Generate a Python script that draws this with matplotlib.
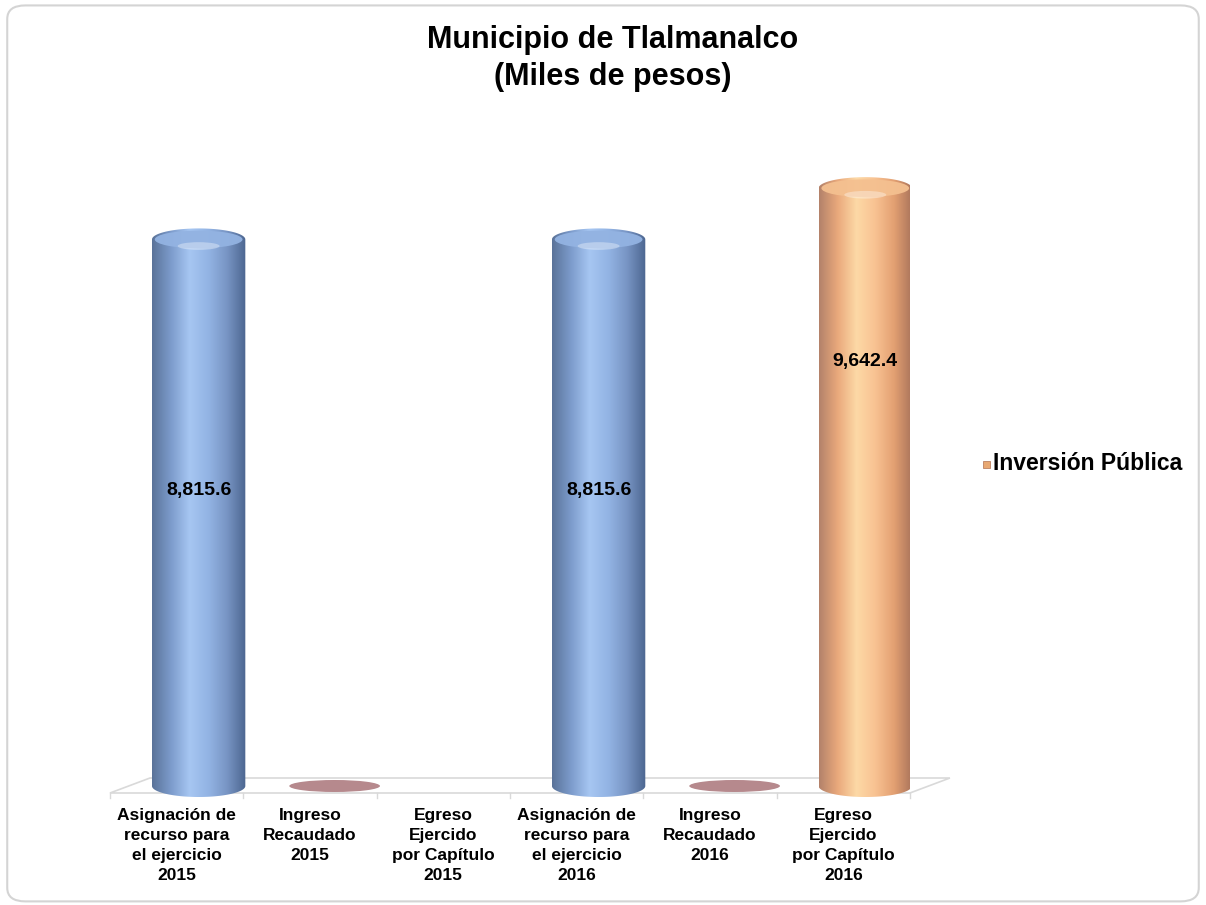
import numpy as np
import matplotlib.pyplot as plt
from matplotlib.colors import LinearSegmentedColormap
from matplotlib.patches import Ellipse, FancyBboxPatch, Polygon, PathPatch, Rectangle
from matplotlib.path import Path

plt.rcParams['font.family'] = ['Liberation Sans', 'DejaVu Sans']

# data
categories = ["Asignación de\nrecurso para\nel ejercicio\n2015",
              "Ingreso\nRecaudado\n2015",
              "Egreso\nEjercido\npor Capítulo\n2015",
              "Asignación de\nrecurso para\nel ejercicio\n2016",
              "Ingreso\nRecaudado\n2016",
              "Egreso\nEjercido\npor Capítulo\n2016"]
values = [8815.6, 0.0, None, 8815.6, 0.0, 9642.4]
bar_kind = ["blue", "zero", None, "blue", "zero", "orange"]
value_labels = ["8,815.6", "", "", "8,815.6", "", "9,642.4"]
label_frac = [0.54, 0, 0, 0.54, 0, 0.71]

cmaps = {
    "blue": LinearSegmentedColormap.from_list(
        "b", ["#5a7399", "#7c9bcb", "#a6c6f2", "#93b4e4", "#7895c4", "#4c6690"]),
    "orange": LinearSegmentedColormap.from_list(
        "o", ["#b3826a", "#eaa97c", "#fdd9a6", "#f8c292", "#e3a072", "#a8725a"]),
}
cap_colors = {"blue": "#93b3e2", "orange": "#f4c090"}

fig = plt.figure(figsize=(12.06, 9.05), dpi=100)
fig.patches.append(FancyBboxPatch((0.006, 0.004), 0.988, 0.99,
                                  boxstyle="round,pad=0,rounding_size=0.015",
                                  transform=fig.transFigure, facecolor="white",
                                  edgecolor="#d4d4d4", linewidth=1.5, zorder=-5))

# pixel -> data scales
px_x = 6 / 800.0
px_y = 10000 / 620.0
ybot = -40 * px_y

# axes: y=0 at pixel row 786, y=10000 at row 166 (extra room below for the 3D base)
ax = fig.add_axes([0.0912, (905 - 826) / 905, 0.6633, (826 - 166) / 905])
ax.set_xlim(-0.5, 5.5)
ax.set_ylim(ybot, 10000)
ax.axis("off")

# 3D floor
dx, dy = 40 * px_x, 15 * px_y
front = -7 * px_y
floor = Polygon([(-0.5, front), (5.5, front), (5.5 + dx, front + dy), (-0.5 + dx, front + dy)],
                closed=True, facecolor="white", edgecolor="#d9d9d9", linewidth=1.2,
                clip_on=False, zorder=1)
ax.add_patch(floor)
for i in range(7):
    x = -0.5 + i
    ax.plot([x, x], [front, front - 5 * px_y], color="#d9d9d9", lw=1, clip_on=False, zorder=1)

shift = 0.165
width = 0.70
eh = 22 * px_y  # ellipse height for caps

for i, (v, kind) in enumerate(zip(values, bar_kind)):
    if kind is None:
        continue
    xc = i + shift
    if kind == "zero":
        ax.add_patch(Ellipse((xc + 0.02, 0), 0.68, 12 * px_y, facecolor="#a97479",
                             edgecolor="none", alpha=0.85, zorder=3, clip_on=False))
        continue
    x0, x1 = xc - width / 2, xc + width / 2
    t = np.linspace(np.pi, 2 * np.pi, 60)
    bottom = np.column_stack([xc + width / 2 * np.cos(t), eh / 2 * np.sin(t)])
    t2 = np.linspace(0, np.pi, 60)
    top = np.column_stack([xc + width / 2 * np.cos(t2), v + eh / 2 * np.sin(t2)])
    verts = np.vstack([bottom, top, bottom[:1]])
    clip = PathPatch(Path(verts), transform=ax.transData, facecolor="none", edgecolor="none")
    ax.add_patch(clip)
    grad = np.linspace(0, 1, 256).reshape(1, -1)
    im = ax.imshow(grad, cmap=cmaps[kind], aspect="auto",
                   extent=[x0, x1, -eh, v + eh], zorder=3)
    im.set_clip_path(clip)
    # top cap
    ax.add_patch(Ellipse((xc, v), width * 0.94, eh * 0.8, facecolor=cap_colors[kind],
                         edgecolor="none", alpha=0.95, zorder=4, clip_on=False))
    ax.add_patch(Ellipse((xc, v - eh * 0.3), width * 0.45, eh * 0.35, facecolor="white",
                         edgecolor="none", alpha=0.35, zorder=4, clip_on=False))
    ax.text(xc, v * label_frac[i], value_labels[i], ha="center", va="center",
            fontsize=14, fontweight="bold", color="black", zorder=5)

ax.set_ylim(ybot, 10000)
ax.set_xlim(-0.5, 5.5)

for i, c in enumerate(categories):
    ax.text(i, -(22 * px_y), c, ha="center", va="top", fontsize=12.5, fontweight="bold",
            linespacing=1.42, clip_on=False)

fig.text(0.508, 0.956, "Municipio de Tlalmanalco", ha="center", va="center",
         fontsize=22, fontweight="bold")
fig.text(0.508, 0.915, "(Miles de pesos)", ha="center", va="center",
         fontsize=22, fontweight="bold")

# legend
fig.patches.append(Rectangle((0.8155, 0.483), 0.0055, 0.0075, transform=fig.transFigure,
                             facecolor="#e8a872", edgecolor="#b07050", linewidth=0.5))
fig.text(0.8235, 0.488, "Inversión Pública", ha="left", va="center",
         fontsize=16.5, fontweight="bold")

fig.savefig("out.png", dpi=100)
